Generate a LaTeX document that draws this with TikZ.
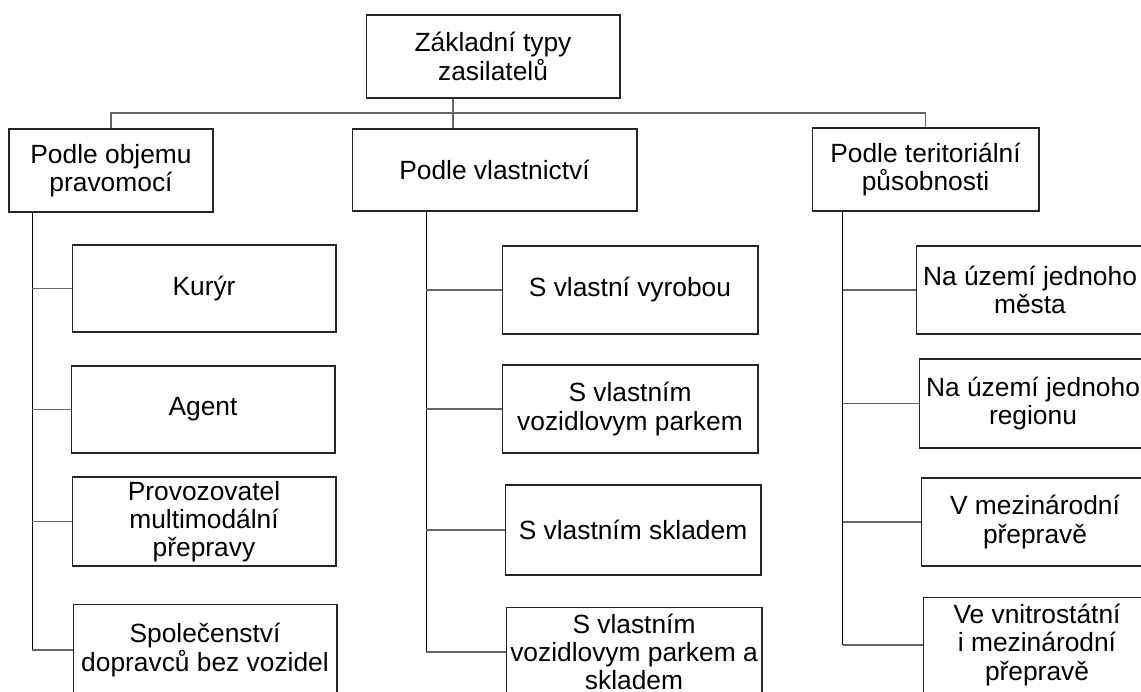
\documentclass[tikz,border=0pt]{standalone}
\usepackage{fontspec}
\setmainfont{Liberation Sans}
\usepackage{tikz}
\usetikzlibrary{shapes, arrows, positioning, calc}

\begin{document}
\begin{tikzpicture}[
			x=0.02cm, y=-0.02cm,
			box/.style={draw=black!85, line width=0.6pt, align=center, inner sep=1pt,
				font=\fontsize{15}{16.1}\selectfont},
			lnk/.style={draw=black!60, line width=0.6pt},
			spine/.style={draw=black, line width=0.9pt}
		]
		\useasboundingbox (0,0) rectangle (1141,691);
		\clip (0,0) rectangle (1141,691);
		% root and first level
		\node[box, minimum width=5.08cm, minimum height=1.66cm] (top) at (493,56.5) {Základní typy\\zasilatelů};
		\node[box, minimum width=4.08cm, minimum height=1.66cm] (pL) at (111,170.5) {Podle objemu\\pravomocí};
		\node[box, minimum width=5.70cm, minimum height=1.64cm] (pM) at (494.5,170) {Podle vlastnictví};
		\node[box, minimum width=4.54cm, minimum height=1.66cm] (pR) at (925.5,169.5) {Podle teritoriální\\působnosti};
		\coordinate (bus) at (453,113);
		\draw[lnk] (pL.north) |- (bus) -| (pR.north);
		\draw[lnk] (top.south -| bus) -- (pM.north -| bus);
		% left column
		\node[box, minimum width=5.28cm, minimum height=1.74cm] (k1) at (204,288.5) {Kurýr};
		\node[box, minimum width=5.28cm, minimum height=1.74cm] (k2) at (203,409.5) {Agent};
		\node[box, minimum width=5.28cm, minimum height=1.78cm] (k3) at (204,521.5) {Provozovatel\\multimodální\\přepravy};
		\node[box, minimum width=5.28cm, minimum height=1.84cm] (k4) at (205,650) {Společenství\\dopravců bez vozidel};
		% middle column
		\node[box, minimum width=5.12cm, minimum height=1.76cm] (m1) at (630,290) {S vlastní vyrobou};
		\node[box, minimum width=5.12cm, minimum height=1.76cm] (m2) at (630,409) {S vlastním\\vozidlovym parkem};
		\node[box, minimum width=5.12cm, minimum height=1.80cm] (m3) at (633,530) {S vlastním skladem};
		\node[box, minimum width=5.12cm, minimum height=1.80cm] (m4) at (634,652) {S vlastním\\vozidlovym parkem a\\skladem};
		% right column
		\node[box, minimum width=4.56cm, minimum height=1.76cm] (r1) at (1030,290) {Na území jednoho\\města};
		\node[box, minimum width=4.56cm, minimum height=1.78cm] (r2) at (1033,403.5) {Na území jednoho\\regionu};
		\node[box, minimum width=4.56cm, minimum height=1.76cm] (r3) at (1035,522) {V mezinárodní\\přepravě};
		\node[box, minimum width=4.56cm, minimum height=1.92cm] (r4) at (1037,645) {Ve vnitrostátní\\i mezinárodní\\přepravě};
		% spines
		\coordinate (sL) at ([xshift=0.48cm]pL.south west);
		\coordinate (sM) at ([xshift=1.50cm]pM.south west);
		\coordinate (sR) at ([xshift=0.62cm]pR.south west);
		\draw[spine] (sL) -- (sL |- k4.west);
		\draw[spine] (sM) -- (sM |- m4.west);
		\draw[spine] (sR) -- (sR |- r4.west);
		\foreach \n in {k1,k2,k3,k4}
			\draw[lnk] (sL |- \n.west) -- (\n.west);
		\foreach \n in {m1,m2,m3,m4}
			\draw[lnk] (sM |- \n.west) -- (\n.west);
		\foreach \n in {r1,r2,r3,r4}
			\draw[lnk] (sR |- \n.west) -- (\n.west);
	\end{tikzpicture}
\end{document}
